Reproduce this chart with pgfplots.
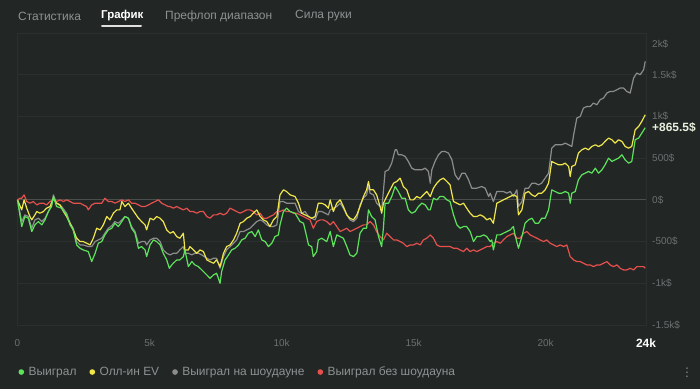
\documentclass[border=0pt]{standalone}
\usepackage{fontspec}
\setmainfont{Liberation Sans}
\newfontfamily\dejavu{DejaVu Sans}
\usepackage{pgfplots}
\pgfplotsset{compat=1.18}
\definecolor{bg}{HTML}{222726}
\definecolor{gridc}{HTML}{2B302F}
\definecolor{zeroc}{HTML}{4A4E4D}
\definecolor{tickc}{HTML}{6C7070}
\definecolor{tabc}{HTML}{8E9292}
\definecolor{cgreen}{HTML}{5CE35A}
\definecolor{cyellow}{HTML}{F0E64A}
\definecolor{cgray}{HTML}{8C8C8C}
\definecolor{cred}{HTML}{E5504D}
\definecolor{endlbl}{HTML}{E8F0DC}
\begin{document}
\begin{tikzpicture}[x=1bp,y=1bp]
\fill[bg] (0,0) rectangle (700,389);
% tabs
\node[anchor=west, text=tabc, font=\fontsize{12}{14}\selectfont, inner sep=0] at (18,373) {Статистика};
\node[anchor=west, text=white, font=\bfseries\fontsize{11.5}{14}\selectfont, inner sep=0] at (101,373) {График};
\node[anchor=west, text=tabc, font=\fontsize{12}{14}\selectfont, inner sep=0] at (165,373) {Префлоп диапазон};
\node[anchor=west, text=tabc, font=\fontsize{12}{14}\selectfont, inner sep=0] at (295,373) {Сила руки};
\draw[white!88!black, line width=2bp, line cap=round] (102,363.3) -- (141,363.3);
\node[text=tabc, font=\dejavu\fontsize{12}{14}\selectfont, inner sep=0] at (687,16) {⋮};
\begin{axis}[
  at={(17.5bp,64bp)}, anchor=south west, scale only axis,
  width=628.5bp, height=292bp,
  xmin=0, xmax=23.8, ymin=-1500, ymax=2000,
  clip=false,
  axis line style={draw=gridc, line width=0.8bp},
  major tick length=0pt, tick style={draw=none},
  xtick={0,5,10,15,20}, xticklabels={0,5k,10k,15k,20k},
  extra x ticks={23.8}, extra x tick labels={24k},
  extra x tick style={xticklabel style={text=white, font=\bfseries\fontsize{12}{14}\selectfont}},
  ytick={-1500,-1000,-500,0,500,1000,1500},
  yticklabels={-1.5k\$,-1k\$,-500\$,0\$,500\$,1k\$,1.5k\$},
  extra y ticks={2000}, extra y tick labels={2k\$},
  extra y tick style={yticklabel style={yshift=-11bp}},
  yticklabel pos=right,
  ymajorgrids, grid style={draw=gridc, line width=0.8bp},
  xticklabel style={text=tickc, font=\fontsize{10}{12}\selectfont, inner sep=0pt, anchor=center, yshift=-18bp},
  yticklabel style={text=tickc, font=\fontsize{10}{12}\selectfont, inner sep=0pt, anchor=west, xshift=6bp},
  legend columns=4,
  legend style={at={(rel axis cs:0,0)}, anchor=west, xshift=1bp, yshift=-47bp,
    draw=none, fill=none, inner sep=0pt, outer sep=0pt,
    font=\fontsize{12}{14}\selectfont, text=tabc,
    nodes={inner sep=0pt},
    /tikz/every odd column/.append style={column sep=4.5bp},
    /tikz/every even column/.append style={column sep=13bp}},
  legend image code/.code={\fill (2.2bp,0bp) circle (2.2bp);},
  every axis plot/.append style={line width=1.2bp, line join=round},
]
\addlegendimage{cgreen}\addlegendentry{Выиграл}
\addlegendimage{cyellow}\addlegendentry{Олл-ин EV}
\addlegendimage{cgray}\addlegendentry{Выиграл на шоудауне}
\addlegendimage{cred}\addlegendentry{Выиграл без шоудауна}
\addplot[zeroc, line width=1bp, forget plot] coordinates {(0,0) (23.8,0)};
% gray: won at showdown
\addplot[cgray, forget plot] coordinates {
(0,0)(0.16,-260)(0.28,-180)(0.41,-200)(0.54,-340)(0.66,-240)(0.79,-220)(0.92,-260)(1.04,-220)(1.17,-140)(1.29,-60)(1.36,60)(1.48,-40)(1.67,-80)(1.86,-160)(1.99,-280)(2.11,-340)(2.24,-500)(2.37,-540)(2.49,-540)(2.68,-560)(2.81,-560)(2.94,-500)(3.06,-480)(3.19,-460)(3.31,-400)(3.44,-340)(3.57,-310)(3.69,-260)(3.82,-280)(3.95,-240)(4.07,-200)(4.20,-220)(4.32,-320)(4.45,-380)(4.58,-520)(4.70,-500)(4.83,-500)(4.89,-540)(5.02,-480)(5.15,-460)(5.27,-460)(5.40,-500)(5.52,-600)(5.65,-640)
(5.78,-660)(5.90,-640)(6.03,-640)(6.15,-600)(6.28,-560)(6.34,-640)(6.47,-640)(6.60,-660)(6.72,-640)(6.85,-640)(6.98,-660)(7.17,-700)(7.29,-720)(7.42,-700)(7.54,-700)(7.67,-820)(7.80,-680)(7.92,-600)(8.05,-560)(8.18,-520)(8.30,-480)(8.43,-380)(8.56,-380)(8.68,-360)(8.81,-340)(8.93,-300)(9.06,-260)(9.19,-240)(9.31,-260)(9.44,-300)(9.56,-320)(9.69,-320)(9.82,-300)(9.94,-20)(10.07,-20)(10.19,-40)(10.32,-40)(10.51,-40)(10.64,-140)(10.76,-160)(10.89,-140)(11.02,-200)(11.14,-220)(11.27,-240)(11.39,-140)(11.52,-140)(11.65,-160)(11.77,-180)
(11.84,-120)(11.96,-100)(12.09,-80)(12.22,-40)(12.34,-100)(12.47,-180)(12.59,-240)(12.72,-260)(12.85,-220)(12.97,-60)(13.10,20)(13.22,60)(13.29,180)(13.35,80)(13.48,60)(13.60,-40)(13.73,-80)(13.79,-120)(13.86,120)(13.92,340)(14.05,360)(14.17,440)(14.30,600)(14.36,600)(14.42,540)(14.55,540)(14.68,520)(14.80,460)(14.93,380)(15.06,360)(15.18,360)(15.31,360)(15.44,380)(15.56,340)(15.63,200)(15.69,360)(15.81,460)(15.94,540)(16.07,580)(16.19,580)(16.32,560)(16.45,480)(16.57,300)(16.70,240)(16.83,320)(16.95,320)(17.08,240)(17.20,140)(17.39,140)(17.58,160)(17.71,140)(17.84,40)
(17.90,80)(18.02,-20)(18.15,100)(18.28,100)(18.40,100)(18.53,80)(18.66,100)(18.78,40)(18.91,120)(18.97,-80)(19.10,-20)(19.22,140)(19.35,140)(19.48,200)(19.60,200)(19.73,180)(19.85,200)(19.98,260)(20.11,320)(20.23,620)(20.36,660)(20.49,660)(20.61,660)(20.74,680)(20.87,660)(20.99,640)(21.06,780)(21.18,980)(21.31,1000)(21.43,1100)(21.56,1120)(21.69,1120)(21.81,1160)(21.94,1140)(22.06,1200)(22.19,1220)(22.32,1280)(22.44,1300)(22.57,1300)(22.70,1320)(22.82,1340)(22.95,1340)(23.07,1300)(23.20,1280)(23.33,1460)(23.45,1520)(23.58,1500)(23.71,1560)(23.77,1660)
};
% red: won without showdown
\addplot[cred, forget plot] coordinates {
(0,0)(0.10,20)(0.16,20)(0.25,60)(0.35,-20)(0.47,-40)(0.60,-20)(0.73,-60)(0.85,-40)(0.98,-40)(1.10,-60)(1.23,-20)(1.36,0)(1.48,-20)(1.61,0)(1.74,-20)(1.86,0)(1.99,-20)(2.11,-40)(2.24,-40)(2.37,-40)(2.49,-60)(2.62,-80)(2.68,-120)(2.81,-60)(2.94,-40)(3.06,-40)(3.19,-40)(3.31,20)(3.44,-20)(3.57,-20)(3.69,-40)(3.82,-20)(3.95,0)(4.07,-20)(4.20,0)(4.32,-40)(4.45,-40)(4.58,-60)(4.70,-80)(4.83,-80)(4.96,-60)(5.08,-40)(5.21,-20)(5.33,0)(5.46,-40)(5.59,-60)(5.71,-80)
(5.78,-80)(5.90,-100)(6.03,-80)(6.15,-100)(6.28,-120)(6.41,-100)(6.53,-140)(6.66,-140)(6.79,-160)(6.91,-140)(7.04,-140)(7.17,-200)(7.29,-220)(7.42,-180)(7.54,-180)(7.67,-160)(7.80,-180)(7.92,-160)(8.05,-100)(8.18,-120)(8.30,-140)(8.43,-160)(8.56,-140)(8.68,-120)(8.81,-120)(8.93,-140)(9.06,-180)(9.19,-160)(9.31,-220)(9.44,-220)(9.56,-200)(9.69,-180)(9.82,-140)(9.94,-140)(10.07,-120)(10.19,-140)(10.32,-140)(10.45,-160)(10.57,-160)(10.70,-180)(10.83,-200)(10.95,-220)(11.08,-240)(11.20,-340)(11.33,-260)(11.46,-240)(11.58,-240)(11.71,-260)
(11.84,-300)(11.96,-260)(12.09,-320)(12.22,-380)(12.34,-360)(12.47,-340)(12.59,-380)(12.72,-360)(12.85,-340)(12.97,-320)(13.10,-300)(13.22,-300)(13.35,-260)(13.48,-300)(13.60,-380)(13.73,-440)(13.86,-480)(13.98,-400)(14.11,-440)(14.24,-480)(14.36,-480)(14.49,-500)(14.61,-520)(14.74,-560)(14.87,-540)(14.99,-540)(15.12,-520)(15.25,-540)(15.37,-480)(15.50,-460)(15.63,-420)(15.75,-460)(15.88,-540)(16.00,-560)(16.13,-560)(16.26,-560)(16.38,-560)(16.51,-580)(16.64,-580)(16.76,-600)(16.89,-620)(17.01,-580)(17.14,-620)(17.27,-600)(17.39,-620)(17.52,-600)(17.65,-580)(17.77,-560)
(17.90,-560)(18.02,-520)(18.15,-500)(18.28,-520)(18.40,-480)(18.53,-440)(18.66,-420)(18.78,-400)(18.91,-460)(19.03,-460)(19.16,-400)(19.29,-380)(19.41,-420)(19.54,-440)(19.67,-460)(19.79,-480)(19.92,-500)(20.04,-480)(20.17,-520)(20.30,-540)(20.42,-560)(20.55,-540)(20.68,-560)(20.80,-540)(20.93,-680)(21.06,-720)(21.18,-740)(21.31,-740)(21.43,-760)(21.56,-780)(21.69,-780)(21.81,-800)(21.94,-780)(22.06,-780)(22.19,-760)(22.32,-740)(22.44,-780)(22.57,-800)(22.70,-780)(22.82,-820)(22.95,-840)(23.07,-840)(23.20,-820)(23.33,-840)(23.45,-800)(23.58,-800)(23.71,-800)(23.77,-820)
};
% yellow: all-in EV
\addplot[cyellow, forget plot] coordinates {
(0,0)(0.16,-120)(0.25,0)(0.35,-100)(0.47,-200)(0.54,-240)(0.66,-180)(0.73,-140)(0.85,-160)(0.98,-140)(1.10,-100)(1.23,-80)(1.36,20)(1.48,-40)(1.61,-60)(1.74,-140)(1.86,-200)(1.99,-280)(2.11,-360)(2.24,-460)(2.37,-500)(2.49,-500)(2.62,-520)(2.75,-540)(2.87,-460)(3.00,-340)(3.13,-360)(3.25,-300)(3.38,-200)(3.50,-240)(3.63,-160)(3.76,-120)(3.88,-120)(3.95,-20)(4.07,-80)(4.20,-40)(4.32,-100)(4.45,-160)(4.58,-220)(4.70,-260)(4.83,-300)(4.89,-360)(5.02,-220)(5.15,-240)(5.27,-200)(5.40,-220)(5.52,-260)(5.65,-360)
(5.78,-400)(5.90,-380)(6.03,-440)(6.15,-460)(6.28,-400)(6.34,-600)(6.47,-600)(6.53,-560)(6.66,-600)(6.79,-640)(6.91,-600)(7.04,-620)(7.17,-720)(7.29,-740)(7.42,-760)(7.54,-720)(7.67,-800)(7.80,-640)(7.92,-560)(8.05,-540)(8.18,-480)(8.30,-400)(8.43,-280)(8.56,-260)(8.68,-220)(8.81,-200)(8.93,-160)(9.06,-120)(9.19,-200)(9.31,-240)(9.44,-260)(9.56,-320)(9.69,-240)(9.82,-200)(9.94,60)(10.07,120)(10.19,100)(10.32,60)(10.51,40)(10.64,-40)(10.76,-160)(10.89,-180)(11.02,-200)(11.14,-220)(11.27,-200)(11.39,-40)(11.52,-40)(11.65,-60)(11.77,-100)
(11.84,0)(11.96,-140)(12.09,-40)(12.22,0)(12.34,-80)(12.47,-180)(12.59,-220)(12.72,-240)(12.85,-180)(12.97,-80)(13.10,40)(13.22,120)(13.29,220)(13.35,120)(13.48,120)(13.60,60)(13.73,-80)(13.79,-160)(13.86,-40)(13.98,40)(14.11,120)(14.24,200)(14.36,220)(14.49,260)(14.61,160)(14.74,120)(14.87,0)(14.99,0)(15.12,40)(15.25,20)(15.37,60)(15.50,100)(15.63,40)(15.75,140)(15.88,200)(16.00,240)(16.13,260)(16.26,220)(16.38,180)(16.51,-20)(16.64,-40)(16.76,-60)(16.89,-40)(17.01,-100)(17.14,-160)(17.27,-200)(17.39,-200)(17.52,-180)(17.65,-200)(17.77,-240)
(17.90,-220)(18.02,-280)(18.15,-40)(18.28,-20)(18.40,0)(18.53,20)(18.66,40)(18.78,60)(18.91,40)(18.97,-180)(19.10,-120)(19.22,80)(19.35,100)(19.48,60)(19.60,40)(19.73,80)(19.85,80)(19.98,120)(20.11,200)(20.23,460)(20.36,440)(20.49,420)(20.61,420)(20.74,440)(20.87,400)(20.93,280)(20.99,400)(21.12,420)(21.24,560)(21.37,600)(21.50,620)(21.62,600)(21.75,640)(21.88,660)(22.00,640)(22.13,660)(22.25,700)(22.38,740)(22.51,720)(22.63,680)(22.76,720)(22.89,700)(23.01,640)(23.14,620)(23.26,640)(23.39,840)(23.52,880)(23.64,940)(23.77,1020)
};
% green: won
\addplot[cgreen, forget plot] coordinates {
(0,0)(0.16,-320)(0.28,-200)(0.41,-220)(0.54,-380)(0.66,-300)(0.79,-260)(0.92,-300)(1.04,-240)(1.17,-140)(1.29,-80)(1.36,40)(1.48,-80)(1.67,-100)(1.86,-180)(1.99,-300)(2.11,-360)(2.24,-540)(2.37,-580)(2.49,-600)(2.68,-620)(2.81,-740)(2.94,-640)(3.06,-520)(3.19,-500)(3.31,-420)(3.44,-360)(3.57,-340)(3.69,-280)(3.82,-320)(3.95,-260)(4.07,-200)(4.20,-220)(4.32,-340)(4.45,-400)(4.58,-580)(4.70,-560)(4.83,-600)(4.89,-680)(5.02,-540)(5.15,-480)(5.27,-500)(5.40,-540)(5.52,-640)(5.65,-720)(5.75,-820)
(5.84,-780)(5.90,-760)(6.03,-720)(6.15,-720)(6.28,-680)(6.34,-600)(6.47,-800)(6.60,-740)(6.72,-780)(6.85,-800)(6.98,-840)(7.17,-900)(7.29,-940)(7.42,-900)(7.54,-880)(7.67,-1000)(7.73,-860)(7.86,-720)(7.99,-660)(8.11,-600)(8.24,-580)(8.37,-540)(8.49,-480)(8.62,-460)(8.74,-400)(8.87,-380)(9.00,-440)(9.12,-360)(9.25,-480)(9.38,-500)(9.50,-560)(9.63,-520)(9.75,-440)(9.88,-420)(9.94,-300)(10.07,-140)(10.19,-100)(10.32,-140)(10.51,-160)(10.70,-260)(10.83,-280)(10.95,-440)(11.02,-540)(11.14,-560)(11.20,-680)(11.33,-620)(11.39,-480)(11.52,-460)(11.71,-500)
(11.84,-380)(11.96,-560)(12.09,-420)(12.22,-440)(12.34,-460)(12.47,-560)(12.59,-660)(12.72,-680)(12.85,-640)(12.97,-400)(13.10,-340)(13.22,-340)(13.29,-120)(13.41,-200)(13.54,-240)(13.67,-440)(13.79,-560)(13.86,-320)(13.92,-40)(14.05,-40)(14.17,40)(14.30,160)(14.42,100)(14.55,20)(14.68,20)(14.80,-120)(14.93,-160)(15.06,-140)(15.18,-80)(15.31,-40)(15.44,-60)(15.56,-120)(15.63,-120)(15.75,20)(15.88,0)(16.00,40)(16.13,40)(16.26,0)(16.38,-20)(16.51,-180)(16.64,-300)(16.76,-340)(16.89,-320)(17.01,-320)(17.14,-380)(17.27,-500)(17.39,-440)(17.52,-440)(17.65,-420)(17.77,-440)
(17.90,-500)(17.96,-480)(18.02,-600)(18.15,-420)(18.28,-420)(18.40,-400)(18.53,-380)(18.66,-360)(18.78,-320)(18.84,-420)(18.97,-580)(19.10,-440)(19.22,-280)(19.35,-240)(19.48,-220)(19.60,-280)(19.73,-280)(19.85,-220)(19.98,-220)(20.11,-120)(20.23,120)(20.36,100)(20.49,80)(20.61,80)(20.74,100)(20.87,80)(20.93,-40)(20.99,80)(21.12,100)(21.24,240)(21.37,300)(21.50,320)(21.62,340)(21.75,320)(21.88,380)(22.00,320)(22.13,360)(22.25,420)(22.38,500)(22.51,460)(22.63,480)(22.76,500)(22.89,540)(23.01,480)(23.14,440)(23.26,460)(23.39,720)(23.52,740)(23.64,800)(23.77,865.5)
};
\node[anchor=west, text=endlbl, font=\bfseries\fontsize{12}{14}\selectfont, inner sep=0pt, xshift=6bp] at (axis cs:23.8,865.5) {+865.5\$};
\end{axis}
\end{tikzpicture}
\end{document}
